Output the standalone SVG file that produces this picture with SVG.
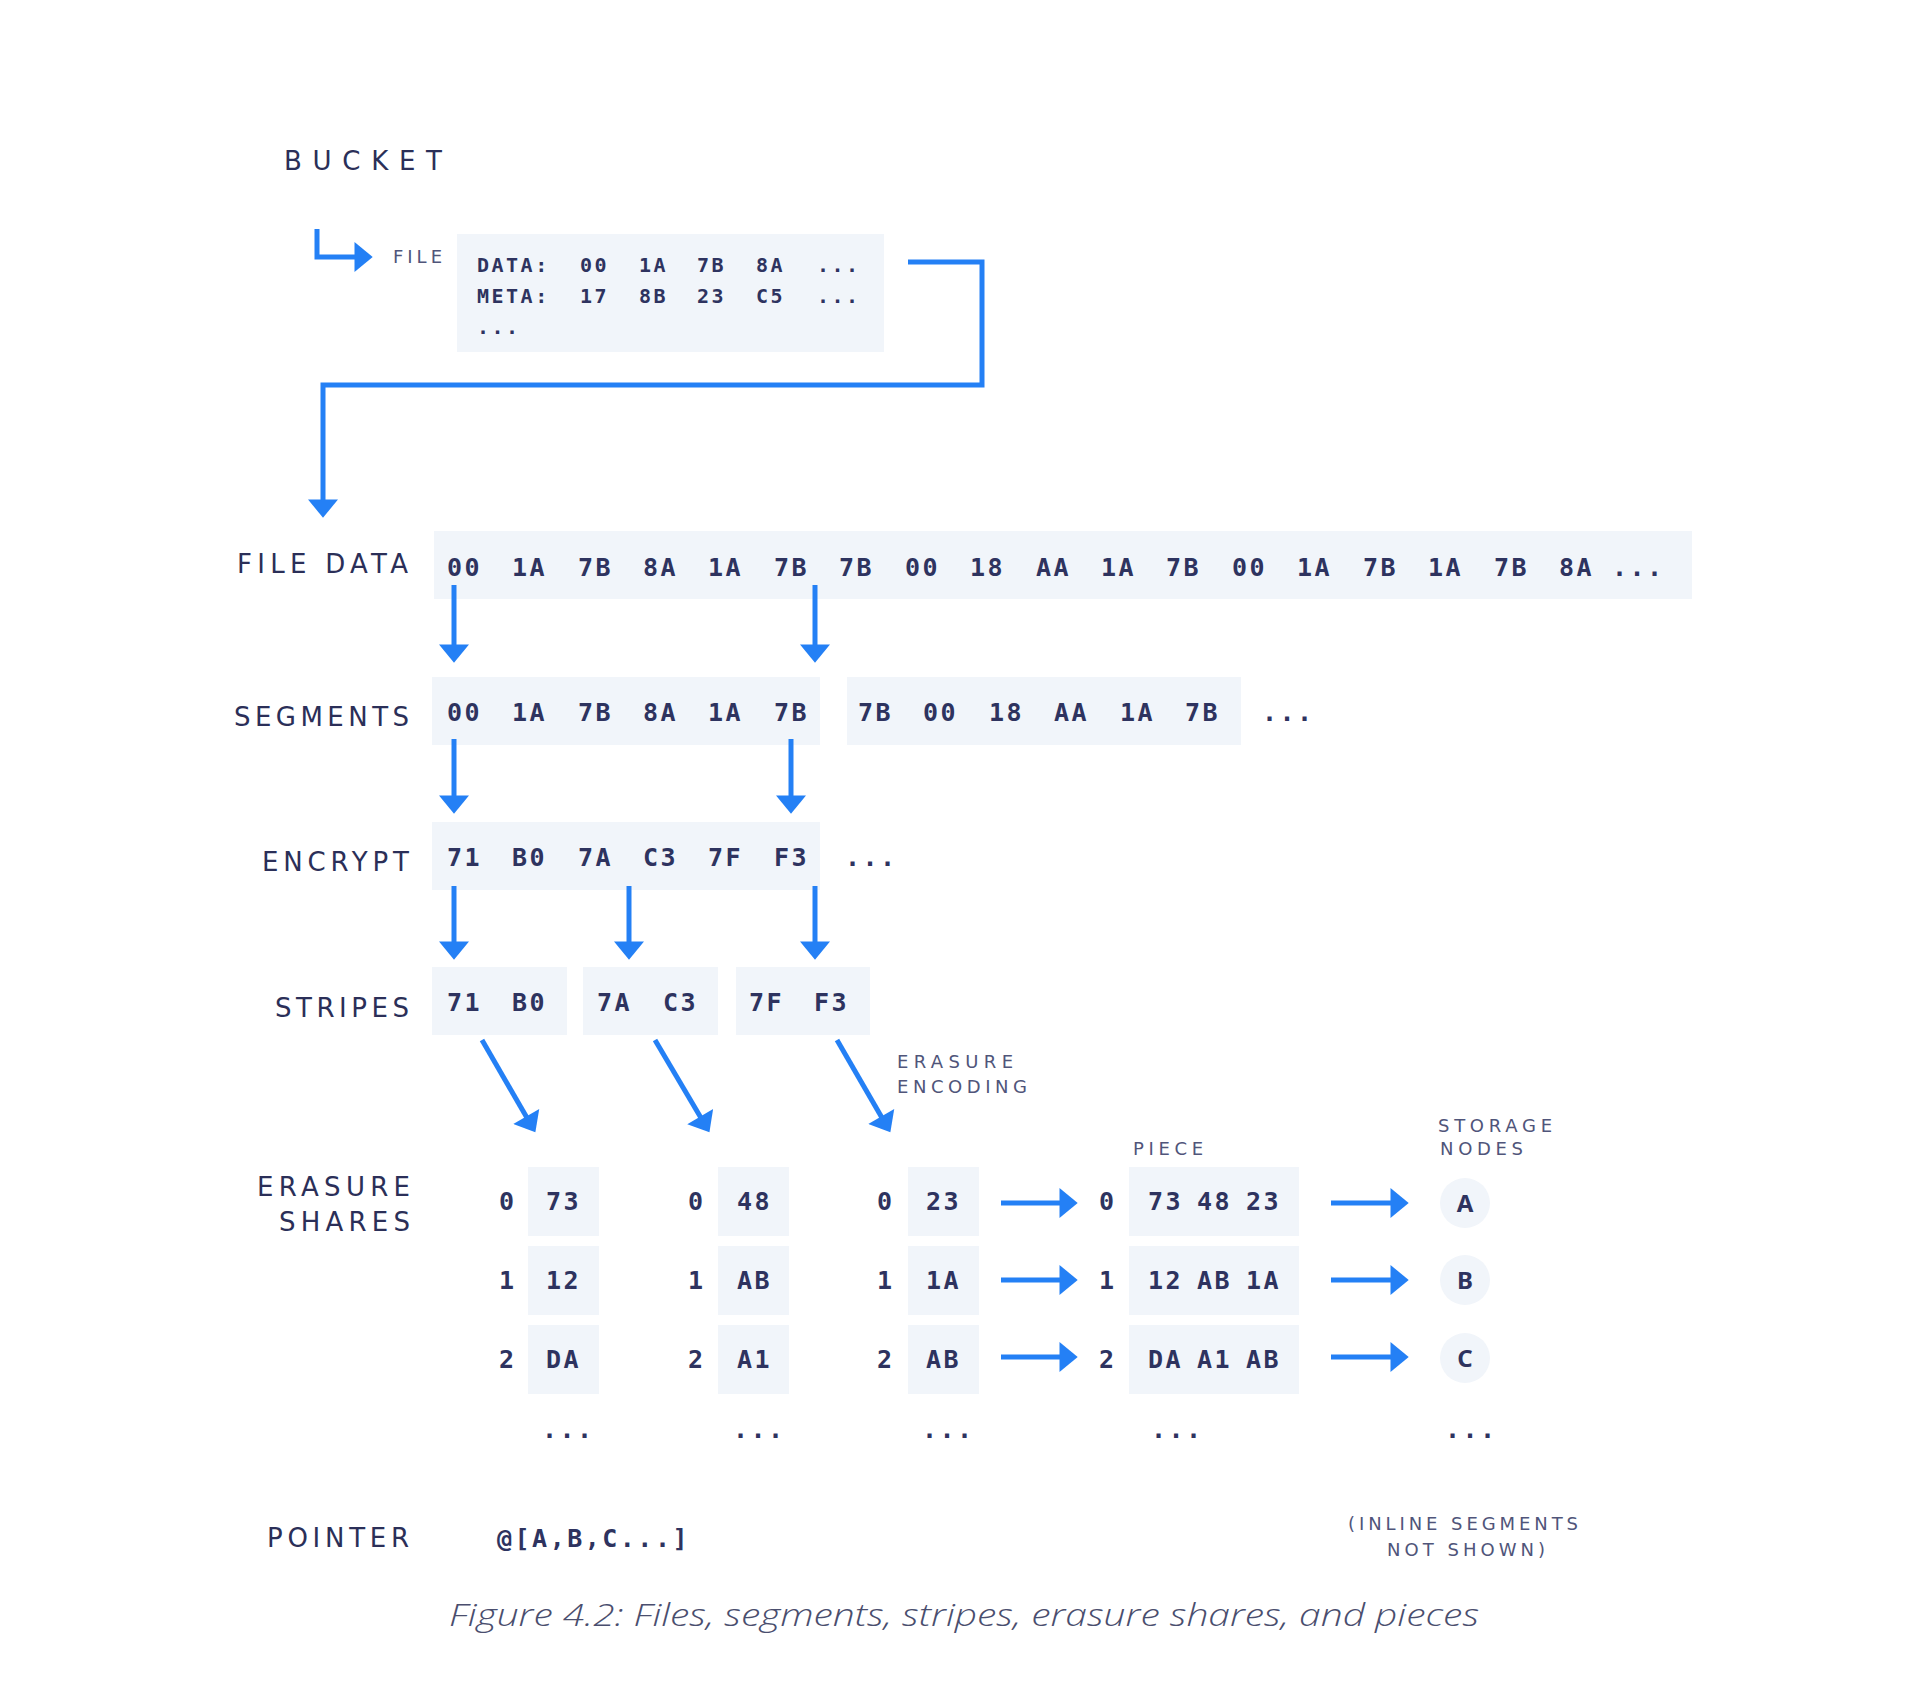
<svg xmlns="http://www.w3.org/2000/svg" width="1920" height="1697" viewBox="0 0 1920 1697">
<style>
.bg{fill:#ffffff}
.box{fill:#f1f5fa}
.lbl{font-family:"DejaVu Sans","Noto Sans",sans-serif;font-size:26px;fill:#2b2f58}
.sm{font-family:"DejaVu Sans","Noto Sans",sans-serif;font-size:18px;fill:#50557a}
.mono{font-family:"DejaVu Sans Mono","Liberation Mono",monospace;font-size:25px;font-weight:bold;fill:#2e335f;letter-spacing:2.5px}
.mono-s{font-family:"DejaVu Sans Mono","Liberation Mono",monospace;font-size:20px;font-weight:bold;fill:#2e335f;letter-spacing:2.5px}
.node{font-family:"Noto Sans","Open Sans",sans-serif;font-size:24px;font-weight:bold;fill:#2e335f}
.cap{font-family:"Open Sans","Noto Sans",sans-serif;font-size:32px;font-style:italic;fill:#4a4e6e;font-weight:300}
.conn{fill:none;stroke:#2480f5;stroke-width:5;marker-end:url(#ah)}
.circ{fill:#f1f5fa}
</style>
<defs>
<marker id="ah" markerUnits="userSpaceOnUse" markerWidth="20" markerHeight="30" viewBox="0 0 17 28" refX="7" refY="14" orient="auto">
<path d="M0,0 L17,14 L0,28 Z" fill="#2480f5"/>
</marker>
</defs>
<rect class="bg" x="0" y="0" width="1920" height="1697"/>

<g id="bucket">
<text class="lbl" x="284" y="170" font-size="32" textLength="158" lengthAdjust="spacing">BUCKET</text>
</g>

<g id="file">
<text class="sm" x="393" y="263" textLength="49" lengthAdjust="spacing">FILE</text>
<rect class="box" x="457" y="234" width="427" height="118"/>
<text class="mono-s" y="272"><tspan x="477">DATA:</tspan><tspan x="580">00</tspan><tspan x="639">1A</tspan><tspan x="697">7B</tspan><tspan x="756">8A</tspan><tspan x="817">...</tspan></text>
<text class="mono-s" y="303"><tspan x="477">META:</tspan><tspan x="580">17</tspan><tspan x="639">8B</tspan><tspan x="697">23</tspan><tspan x="756">C5</tspan><tspan x="817">...</tspan></text>
<text class="mono-s" x="477" y="334">...</text>
</g>

<g id="file-data">
<text class="lbl" x="237" y="573" textLength="171" lengthAdjust="spacing">FILE DATA</text>
<rect class="box" x="434" y="531" width="1258" height="68"/>
<text class="mono" y="576"><tspan x="447">00</tspan><tspan x="512">1A</tspan><tspan x="578">7B</tspan><tspan x="643">8A</tspan><tspan x="708">1A</tspan><tspan x="774">7B</tspan><tspan x="839">7B</tspan><tspan x="905">00</tspan><tspan x="970">18</tspan><tspan x="1036">AA</tspan><tspan x="1101">1A</tspan><tspan x="1166">7B</tspan><tspan x="1232">00</tspan><tspan x="1297">1A</tspan><tspan x="1363">7B</tspan><tspan x="1428">1A</tspan><tspan x="1494">7B</tspan><tspan x="1559">8A</tspan><tspan x="1612">...</tspan></text>
</g>

<g id="segments">
<text class="lbl" x="234" y="726" textLength="175" lengthAdjust="spacing">SEGMENTS</text>
<rect class="box" x="432" y="677" width="388" height="68"/>
<rect class="box" x="847" y="677" width="394" height="68"/>
<text class="mono" y="721"><tspan x="447">00</tspan><tspan x="512">1A</tspan><tspan x="578">7B</tspan><tspan x="643">8A</tspan><tspan x="708">1A</tspan><tspan x="774">7B</tspan><tspan x="858">7B</tspan><tspan x="923">00</tspan><tspan x="989">18</tspan><tspan x="1054">AA</tspan><tspan x="1120">1A</tspan><tspan x="1185">7B</tspan><tspan x="1262">...</tspan></text>
</g>

<g id="encrypt">
<text class="lbl" x="262" y="871" textLength="147" lengthAdjust="spacing">ENCRYPT</text>
<rect class="box" x="432" y="822" width="388" height="68"/>
<text class="mono" y="866"><tspan x="447">71</tspan><tspan x="512">B0</tspan><tspan x="578">7A</tspan><tspan x="643">C3</tspan><tspan x="708">7F</tspan><tspan x="774">F3</tspan><tspan x="845">...</tspan></text>
</g>

<g id="stripes">
<text class="lbl" x="275" y="1017" textLength="134" lengthAdjust="spacing">STRIPES</text>
<rect class="box" x="432" y="967" width="135" height="68"/>
<rect class="box" x="583" y="967" width="135" height="68"/>
<rect class="box" x="736" y="967" width="134" height="68"/>
<text class="mono" y="1011"><tspan x="447">71</tspan><tspan x="512">B0</tspan><tspan x="597">7A</tspan><tspan x="663">C3</tspan><tspan x="749">7F</tspan><tspan x="814">F3</tspan></text>
<text class="sm"><tspan x="897" y="1068" textLength="116" lengthAdjust="spacing">ERASURE</tspan><tspan x="897" y="1093" textLength="130" lengthAdjust="spacing">ENCODING</tspan></text>
</g>

<g id="erasure-shares">
<text class="lbl" x="257" y="1196" textLength="153" lengthAdjust="spacing">ERASURE</text>
<text class="lbl" x="279" y="1231" textLength="131" lengthAdjust="spacing">SHARES</text>
<rect class="box" x="528" y="1167" width="71" height="69"/>
<rect class="box" x="528" y="1246" width="71" height="69"/>
<rect class="box" x="528" y="1325" width="71" height="69"/>
<rect class="box" x="718" y="1167" width="71" height="69"/>
<rect class="box" x="718" y="1246" width="71" height="69"/>
<rect class="box" x="718" y="1325" width="71" height="69"/>
<rect class="box" x="908" y="1167" width="71" height="69"/>
<rect class="box" x="908" y="1246" width="71" height="69"/>
<rect class="box" x="908" y="1325" width="71" height="69"/>
<text class="mono" y="1210"><tspan x="499">0</tspan><tspan x="546">73</tspan><tspan x="688">0</tspan><tspan x="737">48</tspan><tspan x="877">0</tspan><tspan x="926">23</tspan></text>
<text class="mono" y="1289"><tspan x="499">1</tspan><tspan x="546">12</tspan><tspan x="688">1</tspan><tspan x="737">AB</tspan><tspan x="877">1</tspan><tspan x="926">1A</tspan></text>
<text class="mono" y="1368"><tspan x="499">2</tspan><tspan x="546">DA</tspan><tspan x="688">2</tspan><tspan x="737">A1</tspan><tspan x="877">2</tspan><tspan x="926">AB</tspan></text>
<text class="mono" y="1438"><tspan x="542">...</tspan><tspan x="733">...</tspan><tspan x="922">...</tspan></text>
</g>

<g id="piece">
<text class="sm" x="1133" y="1155" textLength="70" lengthAdjust="spacing">PIECE</text>
<rect class="box" x="1129" y="1167" width="170" height="69"/>
<rect class="box" x="1129" y="1246" width="170" height="69"/>
<rect class="box" x="1129" y="1325" width="170" height="69"/>
<text class="mono" y="1210"><tspan x="1099">0</tspan><tspan x="1148">73</tspan><tspan x="1197">48</tspan><tspan x="1246">23</tspan></text>
<text class="mono" y="1289"><tspan x="1099">1</tspan><tspan x="1148">12</tspan><tspan x="1197">AB</tspan><tspan x="1246">1A</tspan></text>
<text class="mono" y="1368"><tspan x="1099">2</tspan><tspan x="1148">DA</tspan><tspan x="1197">A1</tspan><tspan x="1246">AB</tspan></text>
<text class="mono" x="1151" y="1438">...</text>
</g>

<g id="storage-nodes">
<text class="sm"><tspan x="1438" y="1132" textLength="114" lengthAdjust="spacing">STORAGE</tspan><tspan x="1440" y="1155" textLength="83" lengthAdjust="spacing">NODES</tspan></text>
<circle class="circ" cx="1465" cy="1203" r="25"/>
<circle class="circ" cx="1465" cy="1280" r="25"/>
<circle class="circ" cx="1465" cy="1358" r="25"/>
<text class="node" x="1465" y="1212" text-anchor="middle">A</text>
<text class="node" x="1465" y="1289" text-anchor="middle">B</text>
<text class="node" x="1465" y="1367" text-anchor="middle">C</text>
<text class="mono" x="1445" y="1438">...</text>
</g>

<g id="pointer">
<text class="lbl" x="267" y="1547" textLength="142" lengthAdjust="spacing">POINTER</text>
<text class="mono" x="497" y="1547" textLength="193" lengthAdjust="spacing">@[A,B,C...]</text>
<text class="sm"><tspan x="1348" y="1530" textLength="230" lengthAdjust="spacing">(INLINE SEGMENTS</tspan><tspan x="1387" y="1556" textLength="158" lengthAdjust="spacing">NOT SHOWN)</tspan></text>
</g>

<g id="caption">
<text class="cap" x="449" y="1626" textLength="1030" lengthAdjust="spacingAndGlyphs">Figure 4.2: Files, segments, stripes, erasure shares, and pieces</text>
</g>

<g id="connectors">
<path class="conn" d="M317,229 V257 H362"/>
<path class="conn" d="M908,262 H982 V385 H323 V507"/>
<path class="conn" d="M454,585 V652"/>
<path class="conn" d="M815,585 V652"/>
<path class="conn" d="M454,739 V803"/>
<path class="conn" d="M791,739 V803"/>
<path class="conn" d="M454,886 V949"/>
<path class="conn" d="M629,886 V949"/>
<path class="conn" d="M815,886 V949"/>
<path class="conn" d="M482,1040 L530,1123"/>
<path class="conn" d="M655,1040 L704,1123"/>
<path class="conn" d="M837,1040 L885,1123"/>
<path class="conn" d="M1001,1203 H1067"/>
<path class="conn" d="M1001,1280 H1067"/>
<path class="conn" d="M1001,1357 H1067"/>
<path class="conn" d="M1331,1203 H1398"/>
<path class="conn" d="M1331,1280 H1398"/>
<path class="conn" d="M1331,1357 H1398"/>
</g>
</svg>
